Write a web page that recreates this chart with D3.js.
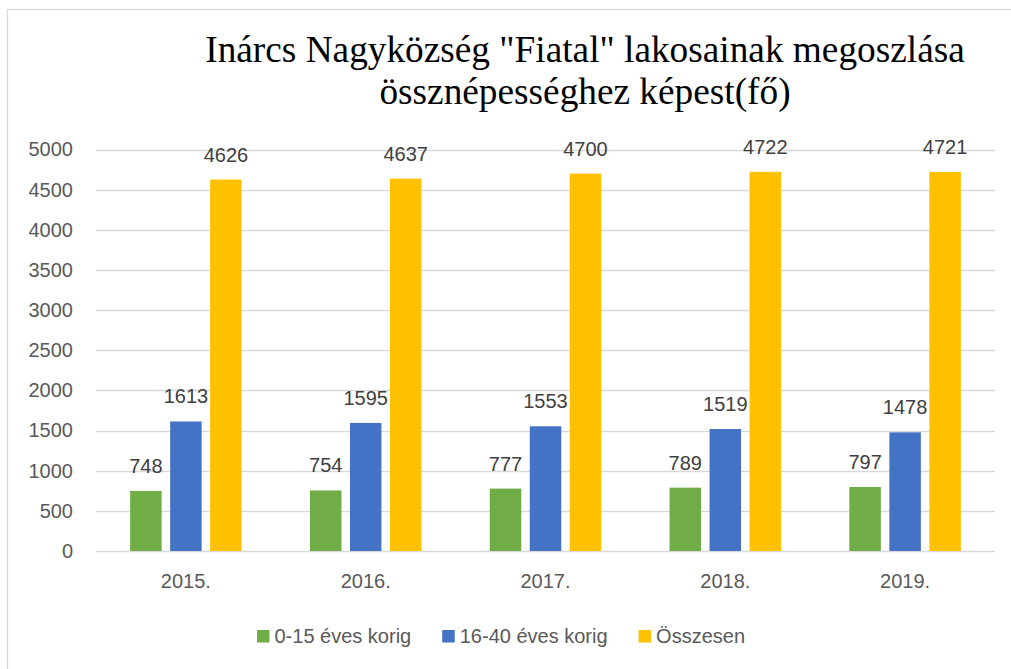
<!DOCTYPE html>
<html>
<head>
<meta charset="utf-8">
<script src="https://cdn.jsdelivr.net/npm/d3@7"></script>
<style>
  html, body { margin: 0; padding: 0; background: #fff; }
  svg { display: block; }
</style>
</head>
<body>
<div id="chart"></div>
<script>
// data
const years = ["2015.", "2016.", "2017.", "2018.", "2019."];
const seriesNames = ["0-15 éves korig", "16-40 éves korig", "Összesen"];
const young = [748, 754, 777, 789, 797];
const adults = [1613, 1595, 1553, 1519, 1478];
const total = [4626, 4637, 4700, 4722, 4721];
const yTicks = [0, 500, 1000, 1500, 2000, 2500, 3000, 3500, 4000, 4500, 5000];
const titleLines = ['Inárcs Nagyközség "Fiatal" lakosainak megoszlása', 'össznépességhez képest(fő)'];

const colors = ["#70AD47", "#4472C4", "#FFC000"];
const series = [young, adults, total];

const width = 1011;
const height = 669;
const sansFont = "'Liberation Sans', Arial, sans-serif";
const fs = "20px";

const svg = d3.select("#chart")
    .append("svg")
    .attr("width", width)
    .attr("height", height);

// chart area border
svg.append("rect")
    .attr("x", 7.5)
    .attr("y", 9.5)
    .attr("width", 1010)
    .attr("height", 700)
    .attr("fill", "#fff")
    .attr("stroke", "#d9d9d9")
    .attr("stroke-width", 1.3);

// title
svg.append("text")
    .attr("x", 585)
    .attr("y", 62)
    .attr("text-anchor", "middle")
    .style("font-family", "'Liberation Serif', 'Times New Roman', serif")
    .style("font-size", "37.3px")
    .attr("fill", "#000")
    .selectAll("tspan")
    .data(titleLines)
    .enter()
    .append("tspan")
    .attr("x", 585)
    .attr("dy", (d, i) => i === 0 ? 0 : 41.5)
    .text(d => d);

const plot = {left: 96, right: 995, top: 149.5, bottom: 551};

const x = d3.scaleBand()
    .domain(years)
    .range([plot.left, plot.right])
    .paddingInner(0)
    .paddingOuter(0);

const barW = 31.5;
const barGap = 8.5;
const groupW = barW * 3 + barGap * 2;

const xs = d3.scaleBand()
    .domain(seriesNames)
    .range([0, groupW])
    .paddingInner(barGap / (barW + barGap))
    .paddingOuter(0);

const y = d3.scaleLinear()
    .domain([0, 5000])
    .range([plot.bottom, plot.top]);

// gridlines
svg.append("g")
    .selectAll("line")
    .data(yTicks)
    .enter()
    .append("line")
    .attr("x1", plot.left)
    .attr("x2", plot.right)
    .attr("y1", d => Math.round(y(d)) + 0.5)
    .attr("y2", d => Math.round(y(d)) + 0.5)
    .attr("stroke", "#d9d9d9")
    .attr("stroke-width", 1.3);

// y axis labels
const yAxis = d3.axisLeft(y).tickValues(yTicks).tickFormat(d3.format("d")).tickSize(0).tickPadding(0);
const gy = svg.append("g")
    .attr("transform", `translate(${73},0)`)
    .call(yAxis);
gy.select(".domain").remove();
gy.selectAll("text")
    .style("font-family", sansFont)
    .style("font-size", fs)
    .attr("fill", "#595959");

// x axis labels
const xAxis = d3.axisBottom(x).tickSize(0).tickPadding(0);
const gx = svg.append("g")
    .attr("transform", `translate(0,${574})`)
    .call(xAxis);
gx.select(".domain").remove();
gx.selectAll("text")
    .style("font-family", sansFont)
    .style("font-size", fs)
    .attr("fill", "#595959");

// bars
const groups = svg.append("g")
    .selectAll("g")
    .data(years)
    .enter()
    .append("g")
    .attr("transform", d => `translate(${x(d) + (x.bandwidth() - groupW) / 2},0)`);

groups.each(function(year, yi){

    const g = d3.select(this);

    seriesNames.forEach((name, si) => {

        const v = series[si][yi];

        g.append("rect")
            .attr("x", xs(name))
            .attr("y", y(v))
            .attr("width", xs.bandwidth())
            .attr("height", y(0) - y(v))
            .attr("fill", colors[si]);

        g.append("text")
            .attr("x", xs(name) + xs.bandwidth() / 2)
            .attr("y", y(v) - 18)
            .attr("text-anchor", "middle")
            .style("font-family", sansFont)
            .style("font-size", fs)
            .attr("fill", "#404040")
            .text(v);

    });

});

// legend
const legend = svg.append("g");
const items = legend.selectAll("g")
    .data(seriesNames)
    .enter()
    .append("g");

items.append("rect")
    .attr("width", 12.5)
    .attr("height", 12.5)
    .attr("y", 630)
    .attr("fill", (d, i) => colors[i]);

items.append("text")
    .attr("x", 17.5)
    .attr("y", 643)
    .style("font-family", sansFont)
    .style("font-size", fs)
    .attr("fill", "#595959")
    .text(d => d);

const widths = [];
items.each(function(){
    widths.push(17.5 + this.querySelector("text").getComputedTextLength());
});
const gap = 31;
const totalW = d3.sum(widths) + gap * (widths.length - 1);
let cx = 501 - totalW / 2;
items.each(function(d, i){
    d3.select(this).attr("transform", `translate(${cx},0)`);
    cx += widths[i] + gap;
});
</script>
</body>
</html>
